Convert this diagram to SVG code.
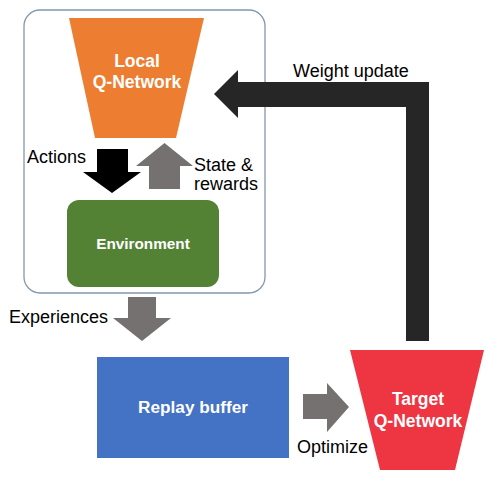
<svg xmlns="http://www.w3.org/2000/svg" width="500" height="486" viewBox="0 0 500 486">
<style>
.lbl{font-family:"Liberation Sans",Arial,sans-serif;font-size:18px;fill:#000}
.nl{font-family:"Liberation Sans",Arial,sans-serif;font-weight:bold;fill:#fff;text-anchor:middle}
</style>
<rect width="500" height="486" fill="#fff"/>
<g id="container">
<rect x="24" y="10" width="241" height="283" rx="16" fill="none" stroke="#8497B0" stroke-width="1.3"/>
</g>
<g id="local-q-network">
<polygon points="69,18 204,18 176,138 95,138" fill="#ED7D31"/>
<text class="nl" x="137" y="67" font-size="17.5">Local</text>
<text class="nl" x="137" y="88" font-size="17.5">Q-Network</text>
</g>
<g id="environment">
<rect x="67" y="200" width="152" height="87" rx="12" fill="#548235"/>
<text class="nl" x="143" y="249" font-size="15.3">Environment</text>
</g>
<g id="replay-buffer">
<rect x="97" y="357" width="192" height="101" fill="#4472C4"/>
<text class="nl" x="193" y="413" font-size="17.2">Replay buffer</text>
</g>
<g id="target-q-network">
<polygon points="350,350 484,350 455,470 380,470" fill="#EE3542"/>
<text class="nl" x="418" y="405" font-size="17.5">Target</text>
<text class="nl" x="418" y="427" font-size="17.5">Q-Network</text>
</g>
<g id="connectors">
<polygon points="97,149 128,149 128,172 141,172 112,193 83,172 97,172" fill="#000"/>
<polygon points="149,189 180,189 180,166 193,166 164.5,143 136,166 149,166" fill="#767171"/>
<polygon points="128,297 156,297 156,318 171,318 142,341 113,318 128,318" fill="#767171"/>
<polygon points="303,394 327,394 327,383 349,407 327,432 327,419 303,419" fill="#767171"/>
<polygon points="406,341 429,341 429,82 238,82 238,70 214,94 238,118 238,107 406,107" fill="#262626"/>
<text class="lbl" x="27" y="163">Actions</text>
<text class="lbl" x="194" y="171">State &amp;</text>
<text class="lbl" x="194" y="190">rewards</text>
<text class="lbl" x="293" y="77" font-size="17.5">Weight update</text>
<text class="lbl" x="9" y="323" font-size="17.3">Experiences</text>
<text class="lbl" x="297" y="453">Optimize</text>
</g>
</svg>
